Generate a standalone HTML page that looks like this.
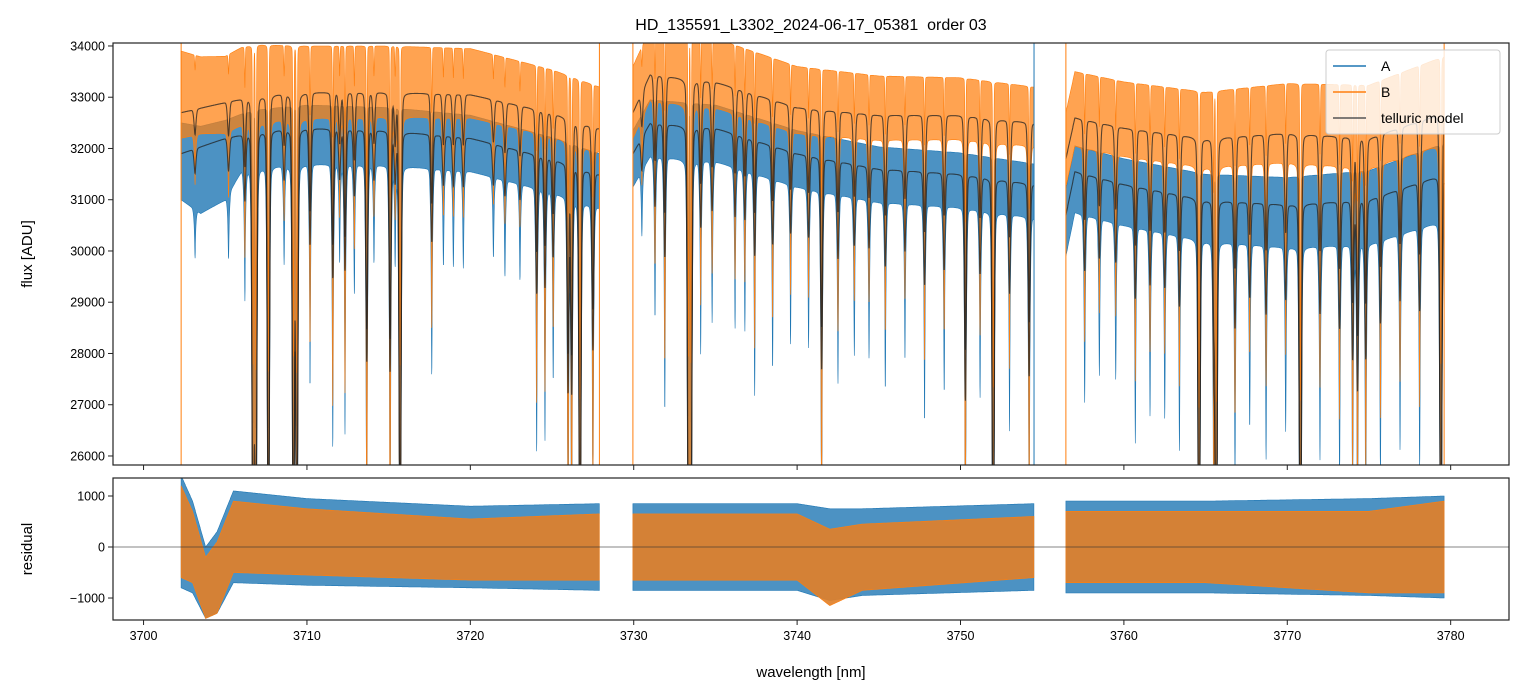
<!DOCTYPE html>
<html><head><meta charset="utf-8"><style>
html,body{margin:0;padding:0;background:#fff;overflow:hidden;width:1523px;height:696px;}
svg{display:block;font-family:"Liberation Sans","DejaVu Sans",sans-serif;}
</style></head><body>
<svg id="chart" width="1523" height="696" xmlns="http://www.w3.org/2000/svg">
<text x="811" y="30" font-size="16" text-anchor="middle" style="white-space:pre">HD_135591_L3302_2024-06-17_05381  order 03</text>
<g id="toppanel"></g>
<g id="botpanel"></g>
<text transform="translate(32,254) rotate(-90)" font-size="15" text-anchor="middle">flux [ADU]</text>
<text transform="translate(32,549) rotate(-90)" font-size="15" text-anchor="middle">residual</text>
<text x="811" y="677" font-size="15" text-anchor="middle">wavelength [nm]</text>
<g id="legendg">
<rect x="1326" y="50" width="174" height="84" rx="3" fill="#fff" fill-opacity="0.8" stroke="#ccc"/>
<line x1="1333" y1="66" x2="1366" y2="66" stroke="#1f77b4" stroke-width="1.5"/>
<text x="1381" y="71" font-size="14">A</text>
<line x1="1333" y1="92" x2="1366" y2="92" stroke="#ff7f0e" stroke-width="1.5"/>
<text x="1381" y="97" font-size="14">B</text>
<line x1="1333" y1="118" x2="1366" y2="118" stroke="#555" stroke-width="1.5"/>
<text x="1381" y="123" font-size="14">telluric model</text>
</g>
</svg>
<script>
const segments=[[3702.3,3727.9],[3729.95,3754.5],[3756.45,3779.6]];
const contWl=[3702.3,3705,3707,3710,3715,3720,3725,3727.9,3729.95,3731,3735,3740,3745,3750,3754.5,3756.45,3757,3760,3765,3770,3775,3779.6];
const contA=[31900,32200,32350,32400,32350,32200,31800,31500,31900,32500,32400,31900,31600,31500,31300,30700,31550,31300,31000,30900,31000,31500];
const contB=[32700,32900,33050,33100,33100,33050,32700,32400,32700,33450,33300,32800,32650,32650,32500,31800,32600,32400,32200,32300,32200,32700];
const lineWl=[3703.15,3705.2,3706.2,3706.7,3706.87,3707.64,3708.6,3709.17,3709.38,3710.19,3711.58,3712.0,3712.33,3712.9,3713.66,3714.1,3715.09,3715.4,3715.7,3717.64,3718.35,3718.96,3719.57,3721.41,3722.12,3723.04,3724.06,3724.57,3725.07,3725.98,3726.2,3726.71,3727.5,
3730.5,3731.3,3731.9,3733.35,3733.5,3734.1,3734.8,3736.2,3736.8,3737.4,3738.5,3739.6,3740.7,3741.5,3742.5,3743.5,3744.4,3745.4,3746.6,3747.8,3749.0,3750.3,3751.2,3752.0,3753.0,3754.2,
3757.6,3758.5,3759.5,3760.7,3761.6,3762.5,3763.4,3764.6,3765.5,3765.65,3766.8,3767.7,3768.7,3769.9,3770.8,3772.0,3773.2,3774.0,3774.3,3774.8,3775.7,3776.9,3778.1,3779.4];
const lineDepth=[0.015,0.02,0.04,0.3,0.3,0.3,0.03,0.3,0.3,0.07,0.09,0.03,0.085,0.04,0.14,0.03,0.145,0.03,0.3,0.065,0.03,0.03,0.03,0.025,0.03,0.03,0.085,0.08,0.06,0.14,0.14,0.3,0.11,
0.02,0.05,0.08,0.3,0.3,0.06,0.05,0.05,0.05,0.07,0.06,0.05,0.05,0.13,0.06,0.05,0.05,0.06,0.05,0.07,0.06,0.14,0.06,0.3,0.07,0.12,
0.06,0.05,0.05,0.07,0.06,0.06,0.07,0.3,0.1,0.3,0.08,0.06,0.07,0.06,0.3,0.07,0.08,0.1,0.12,0.1,0.08,0.07,0.08,0.3];
const noiseWl=[3702.3,3703.5,3705,3706,3710,3720,3728,3730,3740,3754.5,3756.5,3765,3779.6];
const noiseAhi=[600,400,350,400,450,450,400,450,450,400,500,500,600];
const noiseAlo=[900,1300,1200,700,700,650,650,650,650,650,800,800,900];
const noiseBhi=[1200,1000,900,1000,900,900,800,900,800,700,900,900,1100];
const noiseBlo=[500,500,600,500,500,450,450,500,500,450,550,550,600];
const resWl=[3702.3,3703,3703.8,3704.5,3705.5,3710,3720,3727.9,3729.95,3740,3742,3744,3754.5,3756.45,3765,3775,3779.6];
const resMidA=[300,0,-700,-500,200,100,0,0,0,0,-150,-100,0,0,0,0,0];
const resAmpA=[1100,900,700,800,900,850,800,850,850,850,900,850,850,900,900,950,1000];
const resMidB=[300,0,-800,-600,200,100,-50,0,0,0,-400,-200,0,0,0,-100,0];
const resAmpB=[900,700,600,700,700,650,600,650,650,650,750,650,600,700,700,800,900];
const yTicksTop=[26000,27000,28000,29000,30000,31000,32000,33000,34000];
const yTicksBot=[-1000,0,1000];
const xTicks=[3700,3710,3720,3730,3740,3750,3760,3770,3780];

const X0=113,X1=1509,WMIN=3698.13,WMAX=3783.57;
const xs=w=>X0+(w-WMIN)/(WMAX-WMIN)*(X1-X0);
const clamp=(v,a,b)=>Math.max(a,Math.min(b,v));
const TY0=43,TY1=465,FMIN=25824,FMAX=34058;
const yt=f=>clamp(TY1-(f-FMIN)/(FMAX-FMIN)*(TY1-TY0),TY0-3,TY1+3);
const BY0=478,BY1=620,RMIN=-1431,RMAX=1353;
const yb=r=>clamp(BY1-(r-RMIN)/(RMAX-RMIN)*(BY1-BY0),BY0-3,BY1+3);
function interp(xa,ya,x){if(x<=xa[0])return ya[0];for(let i=1;i<xa.length;i++){if(x<=xa[i]){const t=(x-xa[i-1])/(xa[i]-xa[i-1]);return ya[i-1]+t*(ya[i]-ya[i-1]);}}return ya[ya.length-1];}
function trans(x,w){let p=1;for(let i=0;i<lineWl.length;i++){const d=(x-lineWl[i])/w;p*=1-lineDepth[i]*(0.75*Math.exp(-d*d)+0.25/(1+4*d*d));}return p;}
const NS='http://www.w3.org/2000/svg';
function mk(tag,attrs,parent){const e=document.createElementNS(NS,tag);for(const k in attrs)e.setAttribute(k,attrs[k]);parent.appendChild(e);return e;}
const svgEl=document.getElementById('chart');
const gTop=document.getElementById('toppanel'),gBot=document.getElementById('botpanel');
const defs=mk('defs',{},svgEl);
const c1=mk('clipPath',{id:'ct'},defs);mk('rect',{x:X0,y:TY0,width:X1-X0,height:TY1-TY0},c1);
const c2=mk('clipPath',{id:'cb'},defs);mk('rect',{x:X0,y:BY0,width:X1-X0,height:BY1-BY0},c2);
const gt=mk('g',{'clip-path':'url(#ct)'},gTop);
const gb=mk('g',{'clip-path':'url(#cb)'},gBot);
const STEP=0.012;
function bandPath(seg,fnHi,fnLo,ys){let up=[],dn=[];for(let w=seg[0];w<=seg[1];w+=STEP){up.push(xs(w).toFixed(1)+','+ys(fnHi(w)).toFixed(1));dn.push(xs(w).toFixed(1)+','+ys(fnLo(w)).toFixed(1));}return 'M'+up.join('L')+'L'+dn.reverse().join('L')+'Z';}
function linePath(seg,fn,ys){let p=[];for(let w=seg[0];w<=seg[1];w+=STEP)p.push(xs(w).toFixed(1)+','+ys(fn(w)).toFixed(1));return 'M'+p.join('L');}
const modA=w=>interp(contWl,contA,w)*trans(w,0.09);
const modB=w=>interp(contWl,contB,w)*trans(w,0.09);
const hiA=w=>interp(contWl,contA,w)*Math.pow(trans(w,0.035),0.6)+interp(noiseWl,noiseAhi,w);
const loA=w=>interp(contWl,contA,w)*trans(w,0.09)*trans(w,0.035)-interp(noiseWl,noiseAlo,w);
const hiB=w=>interp(contWl,contB,w)*Math.pow(trans(w,0.035),0.6)+interp(noiseWl,noiseBhi,w);
const loB=w=>interp(contWl,contB,w)*trans(w,0.09)*trans(w,0.035)-interp(noiseWl,noiseBlo,w);
segments.forEach((s,i)=>{
 const e=mk('path',{d:bandPath(s,hiA,loA,yt),fill:'#1f77b4','fill-opacity':0.8,stroke:'#1f77b4','stroke-width':0.6},gt);
 
 
});
segments.forEach((s,i)=>{
 const e=mk('path',{d:bandPath(s,hiB,loB,yt),fill:'#ff7f0e','fill-opacity':0.72,stroke:'#ff7f0e','stroke-width':0.6},gt);
 
 
});
segments.forEach((s,i)=>{
 [modA,modB].forEach((f,j)=>{
  const e=mk('path',{d:linePath(s,f,yt),fill:'none',stroke:'#222','stroke-opacity':0.75,'stroke-width':1.1},gt);
  
  
 });
 [[s[0],'#ff7f0e'],[s[1],i==1?'#1f77b4':'#ff7f0e']].forEach(([w,c])=>{
  const e=mk('line',{x1:xs(w),x2:xs(w),y1:TY0,y2:TY1,stroke:c,'stroke-width':1},gt);
  
  
 });
});
segments.forEach((s,i)=>{
 const ea=mk('path',{d:bandPath(s,w=>interp(resWl,resMidA,w)+interp(resWl,resAmpA,w),w=>interp(resWl,resMidA,w)-interp(resWl,resAmpA,w),yb),fill:'#1f77b4','fill-opacity':0.8,stroke:'#1f77b4','stroke-width':0.6},gb);
 
 
 const eb=mk('path',{d:bandPath(s,w=>interp(resWl,resMidB,w)+interp(resWl,resAmpB,w),w=>interp(resWl,resMidB,w)-interp(resWl,resAmpB,w),yb),fill:'#e0802a','fill-opacity':0.92,stroke:'#ff7f0e','stroke-width':0.6},gb);
 
 
});
const zl=mk('line',{x1:X0,x2:X1,y1:yb(0),y2:yb(0),stroke:'#333','stroke-width':0.8,'stroke-opacity':0.8},gBot);


[[TY0,TY1,gTop],[BY0,BY1,gBot]].forEach(([a,b,g])=>{const r=mk('rect',{x:X0,y:a,width:X1-X0,height:b-a,fill:'none',stroke:'#222','stroke-width':1.2},g);});
yTicksTop.forEach(v=>{const y=yt(v);mk('line',{x1:X0-5,x2:X0,y1:y,y2:y,stroke:'#222'},gTop);const t=mk('text',{x:X0-8,y:y+4.5,'font-size':12.5,'text-anchor':'end'},gTop);t.textContent=v;});
yTicksBot.forEach(v=>{const y=yb(v);mk('line',{x1:X0-5,x2:X0,y1:y,y2:y,stroke:'#222'},gBot);const t=mk('text',{x:X0-8,y:y+4.5,'font-size':12.5,'text-anchor':'end'},gBot);t.textContent=v<0?'\u2212'+(-v):v;});
xTicks.forEach(v=>{const x=xs(v);mk('line',{x1:x,x2:x,y1:TY1,y2:TY1+5,stroke:'#222'},gTop);mk('line',{x1:x,x2:x,y1:BY1,y2:BY1+5,stroke:'#222'},gBot);const t=mk('text',{x:x,y:BY1+20,'font-size':12.5,'text-anchor':'middle'},gBot);t.textContent=v;});
svgEl.appendChild(document.getElementById('legendg'));
</script>
</body></html>
